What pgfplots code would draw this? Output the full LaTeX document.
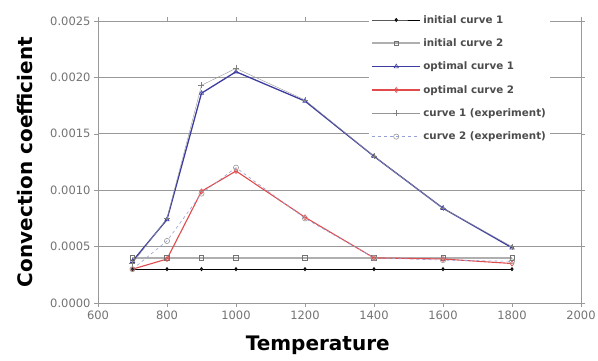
\documentclass[border=0pt]{standalone}
\usepackage{fontspec}
\setmainfont{DejaVu Sans}
\usepackage{pgfplots}
\pgfplotsset{compat=1.18}
\definecolor{optblue}{RGB}{60,60,160}
\definecolor{optred}{RGB}{225,75,75}
\definecolor{initgray}{RGB}{175,175,175}
\definecolor{expgray}{RGB}{150,150,150}
\definecolor{expblue}{RGB}{150,160,215}
\begin{document}
\begin{tikzpicture}
\begin{axis}[
  name=ax,
  at={(0,0)}, anchor=south west,
  scale only axis,
  width=483pt, height=282pt,
  xmin=600, xmax=2000, ymin=0, ymax=0.0025,
  xtick={600,800,...,2000},
  ytick={0,0.0005,...,0.0025},
  scaled y ticks=false,
  yticklabel style={/pgf/number format/.cd,fixed,fixed zerofill,precision=4},
  xticklabel style={/pgf/number format/.cd,1000 sep={}},
  /pgf/number format/assume math mode=true,
  tick label style={font=\fontsize{11.5}{12}\selectfont, text=black!55},
  ymajorgrids,
  major grid style={black!40, line width=0.6pt},
  axis line style={black!40, line width=0.6pt},
  tick style={black!40},
  tick align=outside,
  major tick length=4pt,
  xlabel={\textbf{Temperature}},
  ylabel={\textbf{Convection coefficient}},
  label style={font=\fontsize{20}{22}\selectfont},
  xlabel style={at={(axis description cs:0.455,-0.149)}, anchor=center},
  ylabel style={at={(axis description cs:-0.151,0.5)}, anchor=center},
  legend style={at={(rel axis cs:0.936,1.035)}, anchor=north east, draw=none, fill=white,
    font=\bfseries\fontsize{10.3}{12}\selectfont, text=black!70, row sep=10pt, inner sep=2pt,
    nodes={inner xsep=2pt}},
  legend cell align=left,
  legend image code/.code={\draw[mark repeat=2,mark phase=2,#1] plot coordinates {(0pt,0pt)(24pt,0pt)(48pt,0pt)};},
  clip=false,
]
\addplot[black, line width=0.8pt, mark=diamond*, mark size=1.5pt, mark options={fill=black!60, draw=black}]
  coordinates {(700,0.0003)(800,0.0003)(900,0.0003)(1000,0.0003)(1200,0.0003)(1400,0.0003)(1600,0.0003)(1800,0.0003)};
\addlegendentry{initial curve 1}
\addplot[initgray, line width=2.2pt, mark=square, mark size=2.2pt, mark options={draw=black!55, line width=0.6pt, fill=none}]
  coordinates {(700,0.0004)(800,0.0004)(900,0.0004)(1000,0.0004)(1200,0.0004)(1400,0.0004)(1600,0.0004)(1800,0.0004)};
\addlegendentry{initial curve 2}
\addplot[optblue, line width=1.3pt, mark=triangle, mark size=2.5pt, mark options={line width=0.6pt}]
  coordinates {(700,0.00037)(800,0.00074)(900,0.00186)(1000,0.00205)(1200,0.00179)(1400,0.0013)(1600,0.00084)(1800,0.00049)};
\addlegendentry{optimal curve 1}
\addplot[optred, line width=1.1pt, mark=diamond, mark size=2.5pt, mark options={line width=0.6pt}]
  coordinates {(700,0.0003)(800,0.00039)(900,0.00099)(1000,0.00117)(1200,0.00076)(1400,0.0004)(1600,0.00039)(1800,0.00035)};
\addlegendentry{optimal curve 2}
\addplot[expgray, line width=0.4pt, mark=+, mark size=3pt, mark options={black!50}]
  coordinates {(700,0.00035)(800,0.00075)(900,0.00193)(1000,0.00208)(1200,0.0018)(1400,0.0013)(1600,0.00084)(1800,0.0005)};
\addlegendentry{curve 1 (experiment)}
\addplot[expblue, line width=0.6pt, dashed, mark=o, mark size=2.6pt, mark options={solid, draw=black!40}]
  coordinates {(700,0.0003)(800,0.00055)(900,0.00097)(1000,0.0012)(1200,0.00075)(1400,0.0004)(1600,0.00038)(1800,0.00037)};
\addlegendentry{curve 2 (experiment)}
\end{axis}
\pgfresetboundingbox
\path[use as bounding box] (-98pt,-58pt) rectangle (500pt,303pt);
\end{tikzpicture}
\end{document}
